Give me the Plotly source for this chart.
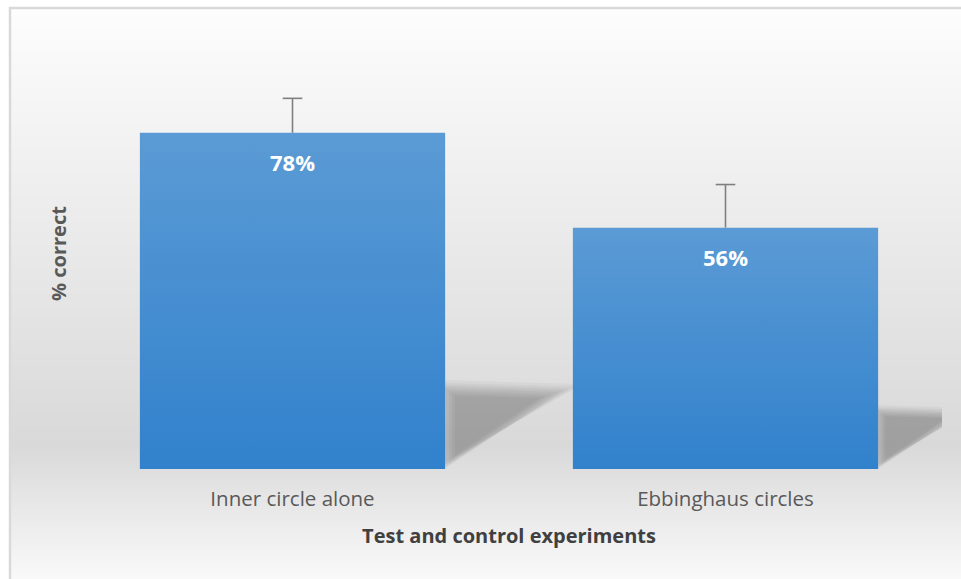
import base64
import struct
import zlib

import plotly.graph_objects as go

categories = ["Inner circle alone", "Ebbinghaus circles"]
percent_correct = [78, 56]
error_plus = [8, 10]
error_minus = [0, 0]

W, H = 961, 579
ML, MR, MT, MB = 76, 19, 38, 110
PW, PH = W - ML - MR, H - MT - MB
BAR_W = 0.705
FONT = "Open Sans"
ERR_COLOR = "#7f7f7f"


def px_x(px):
    return (px - ML) / PW


def px_y(py):
    return (H - MB - py) / PH


def gradient_png(rows):
    # 1 px wide grey png, stretched over the chart frame
    raw = b"".join(b"\x00" + bytes([v, v, v]) for v in rows)

    def chunk(tag, data):
        c = tag + data
        return struct.pack(">I", len(data)) + c + struct.pack(">I", zlib.crc32(c) & 0xffffffff)

    png = b"\x89PNG\r\n\x1a\n"
    png += chunk(b"IHDR", struct.pack(">IIBBBBB", 1, len(rows), 8, 2, 0, 0, 0))
    png += chunk(b"IDAT", zlib.compress(raw))
    png += chunk(b"IEND", b"")
    return "data:image/png;base64," + base64.b64encode(png).decode()


def bg_shade(py):
    if py < 430:
        return round(253 - (253 - 217) * (py - 8) / (430 - 8))
    return round(217 + (254 - 217) * (py - 430) / (H - 430))


fig = go.Figure()

for i, v in enumerate(percent_correct):
    x0, x1 = i - BAR_W / 2, i + BAR_W / 2
    fig.add_trace(go.Scatter(
        x=[x0, x1, x1, x0, x0], y=[0, 0, v, v, 0],
        mode="lines", fill="toself", line=dict(width=0),
        fillgradient=dict(type="vertical",
                          colorscale=[[0, "#3181cc"], [1, "#5b9bd5"]]),
        hoverinfo="skip", showlegend=False))

# plus-only error bars: stem from error_y (no caps), cap drawn as a marker on top
x_idx = list(range(len(categories)))
fig.add_trace(go.Scatter(
    x=x_idx, y=percent_correct, mode="markers",
    marker=dict(size=1, opacity=0),
    error_y=dict(type="data", symmetric=False, array=error_plus,
                 arrayminus=error_minus, color=ERR_COLOR, thickness=1.6, width=0),
    showlegend=False))
fig.add_trace(go.Scatter(
    x=x_idx, y=[v + e for v, e in zip(percent_correct, error_plus)], mode="markers",
    marker=dict(symbol="line-ew", size=14, line=dict(color=ERR_COLOR, width=1.6)),
    hoverinfo="skip", showlegend=False))

shapes = []
# soft shadows behind the bars, stacked faint triangles for a blur
for i, v in enumerate(percent_correct):
    x0 = i + BAR_W / 2
    length, height = 0.0034 * v, 0.24 * v
    cx, cy = x0 + length / 3, height * 0.65
    for s in [1.3, 1.2, 1.12, 1.05, 0.98, 0.9, 0.82, 0.74]:
        pts = [(x0, 0), (x0, height), (x0 + length, height * 0.96)]
        pts = [(cx + (px - cx) * s, max(0, cy + (py - cy) * s)) for px, py in pts]
        path = "M " + " L ".join(f"{px},{py}" for px, py in pts) + " Z"
        shapes.append(dict(
            type="path", xref="x", yref="y", layer="below", path=path,
            fillcolor="rgba(0,0,0,0.034)", line=dict(width=0)))

# frame edges
shapes.append(dict(
    type="path", xref="paper", yref="paper", layer="below",
    path=f"M {px_x(10)},{px_y(H + 20)} L {px_x(10)},{px_y(8)} L {px_x(W + 20)},{px_y(8)}",
    line=dict(color="#d9d9d9", width=2.5)))

annotations = [
    dict(x=i, y=v, xref="x", yref="y", text=f"<b>{v}%</b>", showarrow=False,
         yshift=-29, font=dict(family=FONT, size=22, color="white"))
    for i, v in enumerate(percent_correct)
]

fig.update_layout(
    width=W, height=H,
    margin=dict(l=ML, r=MR, t=MT, b=MB),
    paper_bgcolor="white", plot_bgcolor="rgba(0,0,0,0)",
    shapes=shapes, annotations=annotations,
    images=[dict(
        source=gradient_png([bg_shade(py) for py in range(8, H + 1)]),
        xref="paper", yref="paper", x=px_x(11), y=px_y(9),
        sizex=px_x(W + 20) - px_x(11), sizey=px_y(9) - px_y(H + 20),
        xanchor="left", yanchor="top", sizing="stretch", layer="below")],
    xaxis=dict(
        range=[-0.5, 1.5], tickvals=x_idx, ticktext=categories,
        showgrid=False, zeroline=False, showline=False, ticks="",
        ticklabelstandoff=15,
        tickfont=dict(family=FONT, size=20.5, color="#595959"),
        title=dict(text="<b>Test and control experiments</b>", standoff=18,
                   font=dict(family=FONT, size=20, color="#404040"))),
    yaxis=dict(
        range=[0, 100], showgrid=False, zeroline=False, showline=False,
        showticklabels=False, ticks="",
        title=dict(text="<b>% correct</b>", standoff=3,
                   font=dict(family=FONT, size=20, color="#595959"))),
)

# drop the default page margin so the figure sits at the window corner
fig.write_html("out.html", config={"displayModeBar": False},
               post_script="document.body.style.margin = '0';")
